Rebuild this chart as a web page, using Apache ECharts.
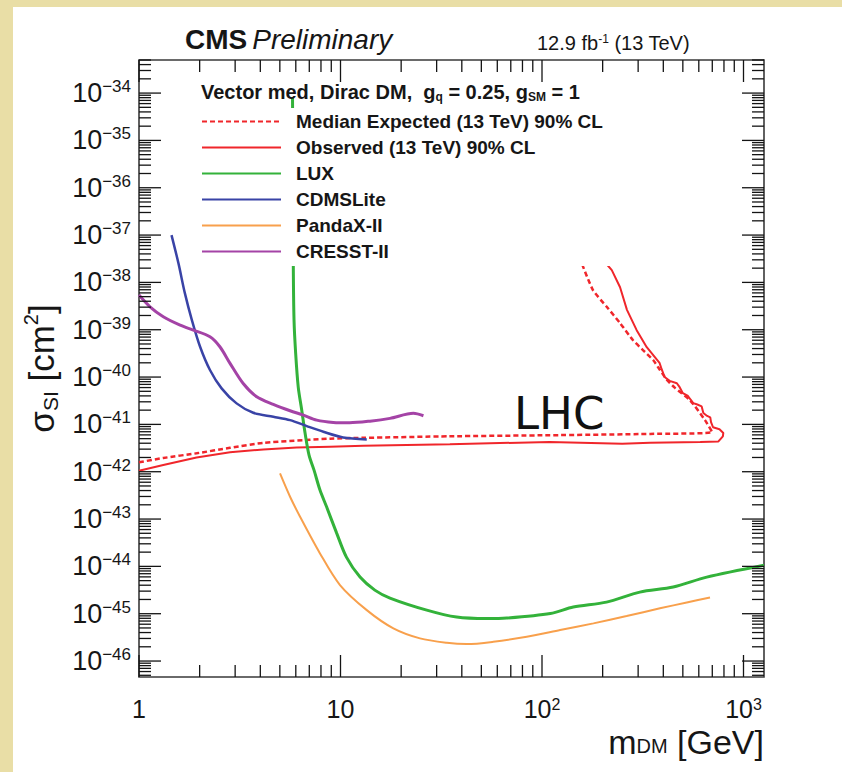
<!DOCTYPE html>
<html><head><meta charset="utf-8">
<script src="https://cdn.jsdelivr.net/npm/echarts@6/dist/echarts.min.js"></script>
<style>
html,body{margin:0;padding:0;width:842px;height:772px;background:#e9dea6;overflow:hidden;}
#bg{position:absolute;left:13px;top:7px;width:829px;height:765px;background:#fff;}
#c{position:absolute;left:0;top:0;width:842px;height:772px;}
</style></head><body><div id="bg"></div><div id="c"></div>
<script>
// ---- axis ranges / ticks ----
const xMin = 1, xMax = 1264;
const yMin = 4.6e-47, yMax = 5e-34;
const xMajorTicks = [1, 10, 100, 1000];
const xTickLabels = ['1', '10', '10{s|2}', '10{s|3}'];
const yExponents = [-46,-45,-44,-43,-42,-41,-40,-39,-38,-37,-36,-35,-34];

// ---- data (m_DM in GeV, sigma_SI in cm^2) ----
const expMass = [1, 1.32, 1.93, 2.83, 4.13, 8.87, 13, 34.8, 109, 344, 698, 644, 543, 457, 417, 385, 356, 317, 283, 244, 210, 179, 158];
const expXsec = [1.58e-42, 1.95e-42, 2.45e-42, 3.2e-42, 4.07e-42, 5.0e-42, 5.2e-42, 5.6e-42, 5.9e-42, 6.3e-42, 6.9e-42, 1.23e-41, 3.24e-41, 5.9e-41, 8.7e-41, 1.41e-40, 2.29e-40, 3.72e-40, 6.0e-40, 1.38e-39, 3.02e-39, 6.9e-39, 2.45e-38];

const obsMass = [1, 1.32, 1.93, 2.83, 4.14, 6.06, 8.87, 13, 34.9, 109, 250, 344, 610, 751, 790, 794, 760, 706, 690, 684, 660, 632, 620, 590, 563, 530, 500, 480, 467, 430, 406, 390, 383, 331, 295, 264, 244, 222, 209];
const obsXsec = [1.05e-42, 1.38e-42, 2.0e-42, 2.57e-42, 2.95e-42, 3.24e-42, 3.39e-42, 3.55e-42, 3.8e-42, 4.27e-42, 3.9e-42, 4.07e-42, 4.27e-42, 4.37e-42, 5.6e-42, 6.6e-42, 7.9e-42, 8.7e-42, 1.12e-41, 1.41e-41, 1.51e-41, 1.74e-41, 2.4e-41, 2.63e-41, 2.82e-41, 3.98e-41, 4.57e-41, 6.3e-41, 7.4e-41, 8.3e-41, 1.0e-40, 1.58e-40, 2.0e-40, 4.27e-40, 9.8e-40, 2.63e-39, 7.9e-39, 1.82e-38, 2.45e-38];

const luxMass = [5.78, 5.83, 5.88, 5.99, 6.17, 6.42, 6.67, 6.98, 7.39, 7.91, 8.54, 9.57, 10.7, 12.5, 14.8, 17.6, 26.8, 37.7, 53.2, 66.8, 110, 143, 209, 306, 448, 657, 1264];
const luxXsec = [8.2e-35, 2.56e-38, 1.6e-39, 3.21e-40, 6.15e-41, 2.01e-41, 6.56e-42, 2.25e-42, 1.08e-42, 4.09e-43, 1.79e-43, 5.05e-44, 1.57e-44, 5.94e-45, 3.15e-45, 2.14e-45, 1.19e-45, 8.49e-46, 7.89e-46, 8.09e-46, 1.01e-45, 1.38e-45, 1.76e-45, 2.86e-45, 3.66e-45, 5.94e-45, 1.06e-44];

const cdmsMass = [1.45, 1.57, 1.69, 1.83, 2.01, 2.25, 2.57, 3.05, 3.69, 4.64, 5.62, 6.8, 8.22, 10.3, 13.5];
const cdmsXsec = [1.0e-37, 2.52e-38, 5.86e-39, 1.6e-39, 4.37e-40, 1.41e-40, 5.77e-41, 2.78e-41, 1.76e-41, 1.45e-41, 1.23e-41, 9.2e-42, 6.98e-42, 5.31e-42, 4.82e-42];

const pandaMass = [5.01, 5.62, 6.3, 7.91, 9.94, 13.5, 18.3, 24.8, 33.7, 42.3, 57.3, 84, 123, 180, 263, 385, 523, 682];
const pandaXsec = [9.2e-43, 2.96e-43, 1.12e-43, 1.88e-44, 4.03e-45, 1.19e-45, 4.9e-46, 3.01e-46, 2.43e-46, 2.28e-46, 2.55e-46, 3.25e-46, 4.51e-46, 6.25e-46, 8.91e-46, 1.3e-45, 1.73e-45, 2.21e-45];

const cresstMass = [1.0, 1.134, 1.32, 1.6, 1.86, 2.25, 2.52, 2.83, 3.29, 3.84, 4.64, 5.62, 6.54, 7.62, 9.21, 11.1, 14.0, 17.6, 23.0, 25.8];
const cresstXsec = [5.4e-39, 3.05e-39, 1.88e-39, 1.25e-39, 9.8e-40, 7.1e-40, 4.37e-40, 1.95e-40, 7.3e-41, 3.83e-41, 2.65e-41, 1.94e-41, 1.57e-41, 1.23e-41, 1.1e-41, 1.08e-41, 1.17e-41, 1.34e-41, 1.71e-41, 1.52e-41];

const seriesNames = ['Median Expected (13 TeV) 90% CL', 'Observed (13 TeV) 90% CL', 'LUX', 'CDMSLite', 'PandaX-II', 'CRESST-II'];

// ---- tick values ----
const yMajorTicks = yExponents.map(e => Number('1e' + e));
const xMinorTicks = [];
xMajorTicks.forEach(d => { for (let k = 2; k <= 9; k++) { const v = d * k; if (v <= xMax) xMinorTicks.push(v); } });
const yMinorTicks = [];
for (let e = -47; e <= -34; e++) { for (let k = 2; k <= 9; k++) { const v = Number(k + 'e' + e); if (v >= yMin && v <= yMax) yMinorTicks.push(v); } }

const pairs = (m, s) => m.map((v, i) => [v, s[i]]);
const FONT = 'Liberation Sans';
const TXT = '#161616';
const TICK = { stroke: '#141414', lineWidth: 1.3 };

// tick marks drawn through the axes' own scales (all four sides, pointing inward)
function xTickSeries(ticks, len) {
  return {
    type: 'custom', xAxisIndex: 0, yAxisIndex: 0, silent: true, z: 6, clip: false,
    data: ticks.map(v => [v, yMin]),
    renderItem: (params, api) => {
      const v = api.value(0);
      const b = api.coord([v, yMin]), t = api.coord([v, yMax]);
      return { type: 'group', children: [
        { type: 'line', shape: { x1: b[0], y1: b[1], x2: b[0], y2: b[1] - len }, style: TICK },
        { type: 'line', shape: { x1: t[0], y1: t[1], x2: t[0], y2: t[1] + len }, style: TICK }
      ] };
    }
  };
}
function yTickSeries(ticks, len) {
  return {
    type: 'custom', xAxisIndex: 0, yAxisIndex: 0, silent: true, z: 6, clip: false,
    data: ticks.map(v => [xMin, v]),
    renderItem: (params, api) => {
      const v = api.value(1);
      const l = api.coord([xMin, v]), r = api.coord([xMax, v]);
      return { type: 'group', children: [
        { type: 'line', shape: { x1: l[0], y1: l[1], x2: l[0] + len, y2: l[1] }, style: TICK },
        { type: 'line', shape: { x1: r[0], y1: r[1], x2: r[0] - len, y2: r[1] }, style: TICK }
      ] };
    }
  };
}

function lineSeries(name, data, color, width, type, smooth) {
  return {
    name, type: 'line', xAxisIndex: 0, yAxisIndex: 0, data,
    showSymbol: false, symbol: 'none', smooth, clip: true,
    lineStyle: { color, width, type }, itemStyle: { color }, z: 2
  };
}

const option = {
  animation: false,
  backgroundColor: 'transparent',
  grid: { left: 139, right: 78, top: 60, bottom: 95, containLabel: false, outerBoundsMode: 'none',
          show: true, borderColor: '#3a3a3a', borderWidth: 1.6, backgroundColor: 'transparent' },
  xAxis: [{
    type: 'log', logBase: 10, min: xMin, max: xMax, position: 'bottom',
    axisLine: { show: false }, axisTick: { show: false }, splitLine: { show: false },
    axisLabel: {
      show: true, customValues: xMajorTicks, margin: 19,
      fontFamily: FONT, fontSize: 25, color: TXT, lineHeight: 26,
      formatter: v => xTickLabels[xMajorTicks.indexOf(Math.round(v))] || '',
      rich: { s: { fontFamily: FONT, fontSize: 16, color: TXT, verticalAlign: 'top', lineHeight: 6 } }
    }
  }],
  yAxis: [{
    // data axis (log scale)
    type: 'log', logBase: 10, min: yMin, max: yMax, position: 'right',
    axisLine: { show: false }, axisTick: { show: false }, axisLabel: { show: false }, splitLine: { show: false }
  }, {
    // label axis: same extent, expressed in decades (exponent of 10)
    type: 'value', min: Math.log10(yMin), max: Math.log10(yMax), position: 'left',
    axisLine: { show: false }, axisTick: { show: false }, splitLine: { show: false },
    axisLabel: {
      show: true, customValues: yExponents, margin: 8,
      fontFamily: FONT, fontSize: 27, color: TXT, lineHeight: 30,
      formatter: v => '10{s|\u2212' + (-Math.round(v)) + '}',
      rich: { s: { fontFamily: FONT, fontSize: 17, color: TXT, verticalAlign: 'top', lineHeight: 16 } }
    },
    name: '\u03c3{b|SI} [cm{p|2}]', nameLocation: 'middle', nameGap: 66, nameRotate: 90,
    nameTextStyle: { fontFamily: FONT, fontSize: 35, color: TXT, lineHeight: 40,
      rich: { b: { fontFamily: FONT, fontSize: 21, color: TXT, verticalAlign: 'bottom', lineHeight: 20 },
              p: { fontFamily: FONT, fontSize: 20, color: TXT, verticalAlign: 'top', lineHeight: 20 } } }
  }],
  title: [
    { text: '{a|CMS} {b|Preliminary}', left: 185, top: 25, padding: 0,
      textStyle: { rich: {
        a: { fontFamily: FONT, fontWeight: 'bold', fontSize: 28, color: TXT },
        b: { fontFamily: FONT, fontStyle: 'italic', fontWeight: 'normal', fontSize: 28, color: TXT } } } },
    { text: '12.9 fb{s|-1} (13 TeV)', left: 537, top: 33, padding: 0,
      textStyle: { fontFamily: FONT, fontSize: 20, fontWeight: 'normal', color: TXT,
        rich: { s: { fontFamily: FONT, fontSize: 12, color: TXT, verticalAlign: 'top' } } } },
    { text: 'Vector med, Dirac DM,  g{q|q} = 0.25, g{q|SM} = 1', left: 201, top: 81, padding: 0,
      textStyle: { fontFamily: FONT, fontSize: 20, fontWeight: 'bold', color: TXT,
        rich: { q: { fontFamily: FONT, fontSize: 12, fontWeight: 'bold', color: TXT, verticalAlign: 'bottom', padding: [10, 0, 0, 0] } } } },
    { text: 'LHC', left: 514, top: 391, padding: 0,
      textStyle: { fontFamily: 'DejaVu Sans', fontSize: 45, fontWeight: 'normal', color: '#111' } },
    { text: 'm{s|DM} [GeV]', right: 78, top: 728, padding: 0,
      textStyle: { fontFamily: FONT, fontSize: 34, fontWeight: 'normal', color: TXT, lineHeight: 28,
        rich: { s: { fontFamily: FONT, fontSize: 20, color: TXT, verticalAlign: 'bottom', lineHeight: 12 } } } }
  ],
  legend: {
    data: seriesNames, orient: 'vertical', left: 195, top: 108,
    padding: [4, 8, 5, 6], backgroundColor: '#ffffff',
    itemWidth: 79, itemHeight: 14, itemGap: 7,
    selectedMode: false,
    itemStyle: { color: 'rgba(0,0,0,0)', borderColor: 'rgba(0,0,0,0)', borderWidth: 0 },
    textStyle: { fontFamily: FONT, fontSize: 19, fontWeight: 'bold', color: TXT, lineHeight: 14, padding: [0, 0, 0, 10] }
  },
  series: [
    lineSeries(seriesNames[0], pairs(expMass, expXsec), '#f0262b', 2.5, [5, 3], 0.2),
    lineSeries(seriesNames[1], pairs(obsMass, obsXsec), '#f0262b', 2, 'solid', false),
    lineSeries(seriesNames[2], pairs(luxMass, luxXsec), '#33b23a', 3, 'solid', 0.3),
    lineSeries(seriesNames[3], pairs(cdmsMass, cdmsXsec), '#3943a6', 2.5, 'solid', 0.3),
    lineSeries(seriesNames[4], pairs(pandaMass, pandaXsec), '#f8a04c', 2, 'solid', 0.3),
    lineSeries(seriesNames[5], pairs(cresstMass, cresstXsec), '#a443a6', 3, 'solid', 0.3),
    xTickSeries(xMajorTicks, 22),
    xTickSeries(xMinorTicks, 12),
    yTickSeries(yMajorTicks, 22),
    yTickSeries(yMinorTicks, 12)
  ]
};

const chart = echarts.init(document.getElementById('c'), null, { renderer: 'svg' });
chart.setOption(option);
</script>
</body></html>
